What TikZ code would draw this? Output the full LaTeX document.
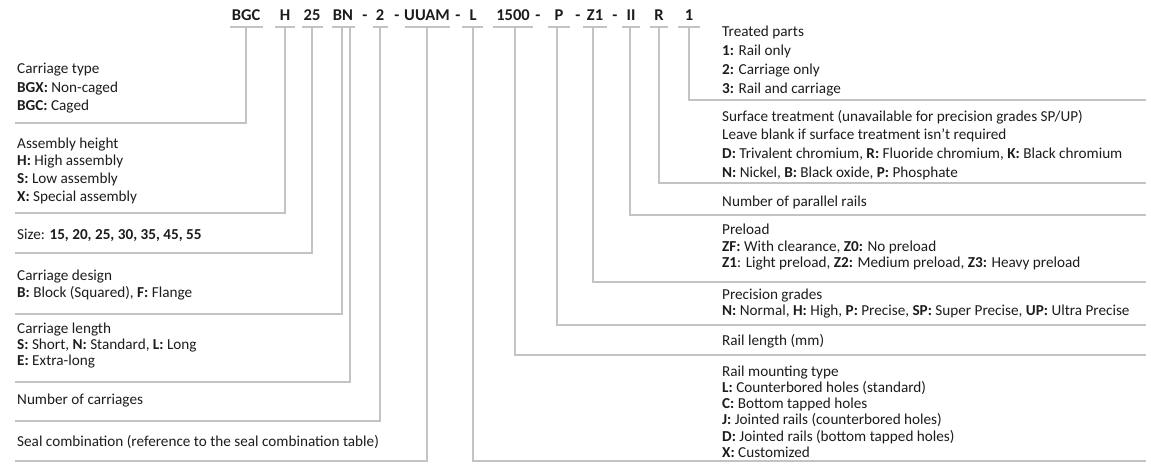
\documentclass[tikz,border=0pt]{standalone}
\usepackage{fontspec}
\setmainfont{Carlito}
\definecolor{rule}{RGB}{195,195,195}
\definecolor{ink}{RGB}{30,27,28}
\tikzset{
  code/.style={font=\fontsize{16.5}{16.5}\selectfont\bfseries, text=ink, inner sep=0pt, anchor=base},
  desc/.style={font=\fontsize{15.2}{#1}\selectfont, text=ink, inner sep=0pt, anchor=west, align=left},
  desc/.default=18,
  lead/.style={draw=rule, line width=1.1pt},
}
\begin{document}
\begin{tikzpicture}[x=1pt,y=-1pt]
\useasboundingbox (0,0) rectangle (1151,473);
% code line
\node[code] (bgc) at (246,21) {BGC};
\node[code] (h) at (285,21) {H};
\node[code] (s25) at (312,21) {25};
\node[code] (bn) at (343,21) {BN};
\node[code] (d1) at (365,21) {-};
\node[code] (n2) at (380,21) {2};
\node[code] (d2) at (397,21) {-};
\node[code] (uuam) at (427,21) {UUAM};
\node[code] (d3) at (458,21) {-};
\node[code] (l) at (473,21) {L};
\node[code] (len) at (513,21) {1500};
\node[code] (d4) at (538,21) {-};
\node[code] (p) at (559,21) {P};
\node[code] (d5) at (578,21) {-};
\node[code] (z1) at (595,21) {Z1};
\node[code] (d6) at (615,21) {-};
\node[code] (ii) at (631,21) {II};
\node[code] (r) at (659,21) {R};
\node[code] (one) at (689,21) {1};
% underlines
\coordinate (u) at (0,27);
\foreach \a/\b in {230/263,275/295,302/323,332/355,373/388,405/450,462/483,493/533,548/570,583/607,622/640,650/668,678/700}
  \draw[lead] (\a,27) -- (\b,27);
% left descriptions
\node[desc=18.5] (t1) at (17,88.5) {Carriage type\\\textbf{BGX:} Non-caged\\\textbf{BGC:} Caged};
\node[desc=17.7] (t2) at (17,170.5) {Assembly height\\\textbf{H:} High assembly\\\textbf{S:} Low assembly\\\textbf{X:} Special assembly};
\node[desc] (t3) at (17,235) {Size: \textbf{15, 20, 25, 30, 35, 45, 55}};
\node[desc=17] (t4) at (17,285.5) {Carriage design\\\textbf{B:} Block (Squared), \textbf{F:} Flange};
\node[desc=16] (t5) at (17,346) {Carriage length\\\textbf{S:} Short, \textbf{N:} Standard, \textbf{L:} Long\\\textbf{E:} Extra-long};
\node[desc] (t6) at (17,401) {Number of carriages};
\node[desc] (t7) at (17,442) {Seal combination (reference to the seal combination table)};
% right descriptions
\node[desc=18.7] (r1) at (722,61) {Treated parts\\\textbf{1:} Rail only\\\textbf{2:} Carriage only\\\textbf{3:} Rail and carriage};
\node[desc=18.7] (r2) at (722,145) {Surface treatment (unavailable for precision grades SP/UP)\\Leave blank if surface treatment isn’t required\\\textbf{D:} Trivalent chromium, \textbf{R:} Fluoride chromium, \textbf{K:} Black chromium\\\textbf{N:} Nickel, \textbf{B:} Black oxide, \textbf{P:} Phosphate};
\node[desc] (r3) at (722,202) {Number of parallel rails};
\node[desc=16.5] (r4) at (722,247.5) {Preload\\\textbf{ZF:} With clearance, \textbf{Z0:} No preload\\\textbf{Z1}: Light preload, \textbf{Z2:} Medium preload, \textbf{Z3:} Heavy preload};
\node[desc=16] (r5) at (722,304) {Precision grades\\\textbf{N:} Normal, \textbf{H:} High, \textbf{P:} Precise, \textbf{SP:} Super Precise, \textbf{UP:} Ultra Precise};
\node[desc] (r6) at (722,341) {Rail length (mm)};
\node[desc=16.2] (r7) at (722,411.5) {Rail mounting type\\\textbf{L:} Counterbored holes (standard)\\\textbf{C:} Bottom tapped holes\\\textbf{J:} Jointed rails (counterbored holes)\\\textbf{D:} Jointed rails (bottom tapped holes)\\\textbf{X:} Customized};
% leader end points
\foreach \n/\y in {e1/123,e2/213,e3/253,e4/314,e5/382,e6/421,e7/461}
  \coordinate (\n) at (15,\y);
\foreach \n/\y in {f1/100,f2/183,f3/215,f4/282,f5/325,f6/355,f7/461}
  \coordinate (\n) at (1146,\y);
% leaders (left)
\draw[lead] (bgc.base |- u) -- (bgc.base |- e1) -- (e1);
\draw[lead] (h.base |- u) -- (h.base |- e2) -- (e2);
\draw[lead] (s25.base |- u) -- (s25.base |- e3) -- (e3);
\draw[lead] ([xshift=-1pt]bn.base |- u) -- ([xshift=-1pt]bn.base |- e4) -- (e4);
\draw[lead] ([xshift=7pt]bn.base |- u) -- ([xshift=7pt]bn.base |- e5) -- (e5);
\draw[lead] (n2.base |- u) -- (n2.base |- e6) -- (e6);
\draw[lead] (uuam.base |- u) -- (uuam.base |- e7) -- (e7);
% leaders (right)
\draw[lead] (one.base |- u) -- (one.base |- f1) -- (f1);
\draw[lead] (r.base |- u) -- (r.base |- f2) -- (f2);
\draw[lead] ([xshift=-1pt]ii.base |- u) -- ([xshift=-1pt]ii.base |- f3) -- (f3);
\draw[lead] ([xshift=-2pt]z1.base |- u) -- ([xshift=-2pt]z1.base |- f4) -- (f4);
\draw[lead] ([xshift=-2pt]p.base |- u) -- ([xshift=-2pt]p.base |- f5) -- (f5);
\draw[lead] ([xshift=2pt]len.base |- u) -- ([xshift=2pt]len.base |- f6) -- (f6);
\draw[lead] (l.base |- u) -- (l.base |- f7) -- (f7);
\end{tikzpicture}
\end{document}
